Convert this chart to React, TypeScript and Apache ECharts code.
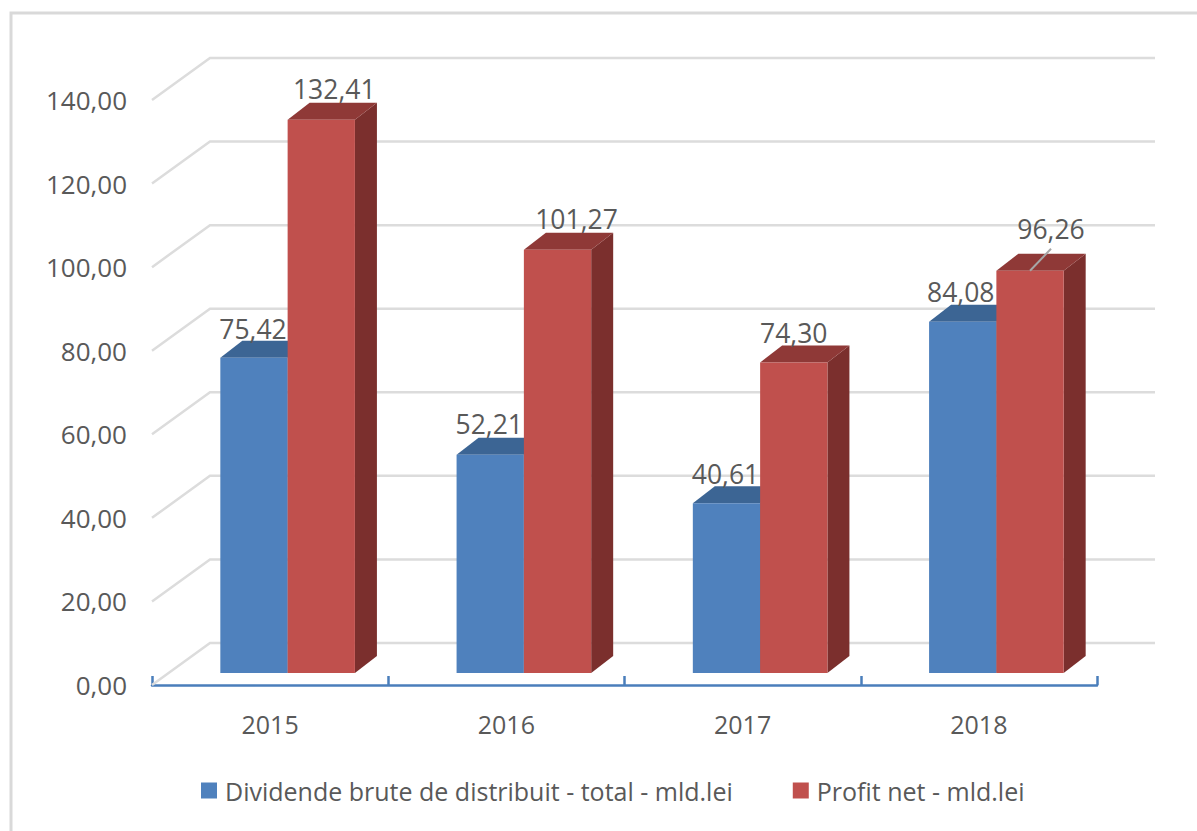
import React, { useEffect, useRef } from "react";
import * as echarts from "echarts";

const categories = ["2015", "2016", "2017", "2018"];
const dividende = [75.42, 52.21, 40.61, 84.08];
const profit = [132.41, 101.27, 74.3, 96.26];
const wallTicks = [0, 20, 40, 60, 80, 100, 120, 140];
const seriesNames = ["Dividende brute de distribuit - total - mld.lei", "Profit net - mld.lei"];

const FONT = "'Open Sans', sans-serif";
const TEXT = "#595959";
const fmt = (v: number) => v.toFixed(2).replace(".", ",");

// Perspective of the Excel-style 3D chart, in pixels
const WALL_DX = 58, WALL_DY = -42;
const FRONT_DX = 17.5, FRONT_DY = -12;
const BAR_DX = 22, BAR_DY = -17;
const BAR_W = 67.3;

const barRender = (slot: number, front: string, top: string, side: string) => (_: any, api: any) => {
  const cat = api.value(0), val = api.value(1);
  const [cx, yTop] = api.coord([cat, val]);
  const [, yBase] = api.coord([cat, 0]);
  const x0 = cx + FRONT_DX + (slot - 1) * BAR_W, x1 = x0 + BAR_W;
  const y0 = yTop + FRONT_DY, y1 = yBase + FRONT_DY;
  const poly = (points: number[][], fill: string) => ({ type: "polygon", shape: { points }, style: { fill } });
  return {
    type: "group",
    children: [
      poly([[x1, y0], [x1 + BAR_DX, y0 + BAR_DY], [x1 + BAR_DX, y1 + BAR_DY], [x1, y1]], side),
      poly([[x0, y0], [x0 + BAR_DX, y0 + BAR_DY], [x1 + BAR_DX, y0 + BAR_DY], [x1, y0]], top),
      poly([[x0, y0], [x1, y0], [x1, y1], [x0, y1]], front),
    ],
  };
};

// Label nudges relative to the centre of each front face: [dx, dy above the top edge]
const labelNudge = [
  [[-1, 29], [13, 31]],
  [[-1, 31], [19, 31]],
  [[-1, 29], [0, 30]],
  [[-2, 30], [21, 42]],
];

const labelRender = (slot: number) => (_: any, api: any) => {
  const cat = api.value(0), val = api.value(1);
  const [cx, yTop] = api.coord([cat, val]);
  const x = cx + FRONT_DX + (slot - 1) * BAR_W + BAR_W / 2;
  const y = yTop + FRONT_DY;
  const [dx, dy] = labelNudge[cat][slot];
  const children: any[] = [
    {
      type: "text",
      x: x + dx,
      y: y - dy,
      style: { text: fmt(val), fill: TEXT, font: `26.5px ${FONT}`, align: "center", verticalAlign: "middle" },
    },
  ];
  if (dy > 35) {
    children.push({
      type: "line",
      shape: { x1: x, y1: y, x2: x + dx, y2: y - dy + 20 },
      style: { stroke: "#a6a6a6", lineWidth: 2 },
    });
  }
  return { type: "group", children };
};

const wallRender = (_: any, api: any) => {
  const v = api.value(1);
  const [cx, y] = api.coord([0, v]);
  const [cxLast] = api.coord([categories.length - 1, v]);
  const half = api.size([1, 0])[0] / 2;
  return {
    type: "polyline",
    shape: {
      points: [
        [cx - half, y],
        [cx - half + WALL_DX, y + WALL_DY],
        [cxLast + half + WALL_DX, y + WALL_DY],
      ],
    },
    style: { stroke: "#dcdcdc", lineWidth: 2.5, fill: "none" },
  };
};

export default function App() {
  const ref = useRef<HTMLDivElement>(null);
  useEffect(() => {
    const chart = echarts.init(ref.current!, undefined, { renderer: "svg" });
    chart.setOption({
      animation: false,
      backgroundColor: "#ffffff",
      textStyle: { fontFamily: FONT },
      grid: { left: 152, right: 100, top: 100, bottom: 146 },
      xAxis: {
        type: "category",
        data: categories,
        boundaryGap: true,
        axisLine: { show: true, lineStyle: { color: "#4a7ebb", width: 2.5 } },
        axisTick: { show: true, alignWithLabel: false, interval: 0, inside: true, length: 9, lineStyle: { color: "#4a7ebb", width: 2.5 } },
        axisLabel: { color: TEXT, fontSize: 25, fontFamily: FONT, margin: 26 },
      },
      yAxis: {
        type: "value",
        min: 0,
        max: 140,
        interval: 20,
        axisLine: { show: false },
        axisTick: { show: false },
        splitLine: { show: false },
        axisLabel: { color: TEXT, fontSize: 26, fontFamily: FONT, margin: 25, formatter: fmt },
      },
      legend: {
        left: 196,
        top: 773,
        icon: "rect",
        itemWidth: 16,
        itemHeight: 16,
        itemGap: 60,
        textStyle: { color: TEXT, fontSize: 25, fontFamily: FONT, padding: [0, 0, 0, 3] },
        data: seriesNames,
      },
      graphic: [
        {
          type: "polyline",
          silent: true,
          shape: { points: [[11, 831], [11, 13], [1197, 13]] },
          style: { stroke: "#d9d9d9", lineWidth: 3, fill: "none" },
        },
      ],
      series: [
        {
          type: "custom",
          name: "wall",
          z: 1,
          silent: true,
          renderItem: wallRender,
          data: wallTicks.map((v) => [0, v]),
          encode: { x: 0, y: 1 },
        },
        {
          type: "custom",
          name: seriesNames[0],
          z: 2,
          itemStyle: { color: "#4f81bd" },
          renderItem: barRender(0, "#4f81bd", "#3c6594", "#355a85"),
          data: dividende.map((v, i) => [i, v]),
        },
        {
          type: "custom",
          name: seriesNames[1],
          z: 3,
          itemStyle: { color: "#c0504d" },
          renderItem: barRender(1, "#c0504d", "#8f3937", "#7b2f2d"),
          data: profit.map((v, i) => [i, v]),
        },
        {
          type: "custom",
          name: "labels-a",
          z: 4,
          silent: true,
          renderItem: labelRender(0),
          data: dividende.map((v, i) => [i, v]),
        },
        {
          type: "custom",
          name: "labels-b",
          z: 4,
          silent: true,
          renderItem: labelRender(1),
          data: profit.map((v, i) => [i, v]),
        },
      ],
    });
    return () => chart.dispose();
  }, []);
  return (
    <div
      ref={ref}
      style={{ position: "fixed", left: 0, top: 0, width: 1197, height: 831, background: "#fff" }}
    />
  );
}
